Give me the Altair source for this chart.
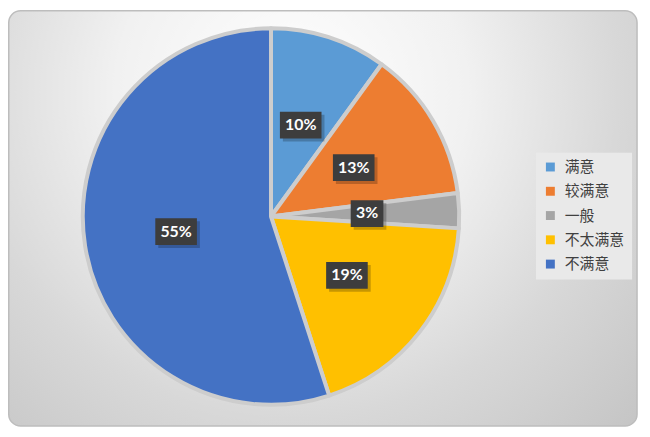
import altair as alt
import pandas as pd

categories = ["满意", "较满意", "一般", "不太满意", "不满意"]
values = [10, 13, 3, 19, 55]
labels = ["10%", "13%", "3%", "19%", "55%"]
colors = ["#5B9BD5", "#ED7D31", "#A5A5A5", "#FFC000", "#4472C4"]

CX, CY, R, LR = 265.5, 208.5, 190, 97

df = pd.DataFrame({"category": categories, "value": values, "label": labels,
                   "idx": list(range(len(categories)))})

base = (
    alt.Chart(df)
    .transform_joinaggregate(total="sum(value)")
    .transform_window(cum="sum(value)", sort=[alt.SortField("idx")], frame=[None, 0])
    .transform_calculate(t1="2*PI*datum.cum/datum.total")
    .transform_calculate(t0="2*PI*(datum.cum-datum.value)/datum.total")
    .transform_calculate(mid="(datum.t0+datum.t1)/2")
    .transform_calculate(lx=f"{CX}+{LR}*sin(datum.mid)")
    .transform_calculate(ly=f"{CY}-{LR}*cos(datum.mid)")
    .transform_calculate(hw="(15+9*length(datum.label))/2")
    .transform_calculate(bx0="datum.lx-datum.hw")
    .transform_calculate(bx1="datum.lx+datum.hw")
    .transform_calculate(by0="datum.ly-13.5")
    .transform_calculate(by1="datum.ly+13.5")
    .transform_calculate(sx0="datum.bx0+3")
    .transform_calculate(sx1="datum.bx1+3")
    .transform_calculate(sy0="datum.by0+3")
    .transform_calculate(sy1="datum.by1+3")
)

frame = alt.Chart(pd.DataFrame({"f": [0]})).mark_rect(
    cornerRadius=12, stroke="#bdbdbd", strokeWidth=1.5,
    fill=alt.Gradient(
        gradient="radial",
        stops=[alt.GradientStop(offset=0, color="#ffffff"),
               alt.GradientStop(offset=0.35, color="#f1f1f1"),
               alt.GradientStop(offset=0.65, color="#d8d8d8"),
               alt.GradientStop(offset=1, color="#c2c2c2")],
        x1=0.45, y1=0.3, r1=0, x2=0.45, y2=0.3, r2=0.8,
    ),
).encode(x=alt.value(0.75), x2=alt.value(635), y=alt.value(0.75), y2=alt.value(420))

arcs = base.mark_arc(radius=R, stroke="#cdcdcd", strokeWidth=4, strokeJoin="round").encode(
    theta=alt.Theta("t0:Q", scale=None),
    theta2="t1:Q",
    x=alt.value(CX),
    y=alt.value(CY),
    color=alt.Color("category:N", sort=categories,
                    scale=alt.Scale(domain=categories, range=colors),
                    legend=alt.Legend(title=None)),
)

shadow = base.mark_rect(color="black", opacity=0.22).encode(
    x=alt.X("sx0:Q", scale=None, axis=None), x2="sx1:Q",
    y=alt.Y("sy0:Q", scale=None, axis=None), y2="sy1:Q",
)

box = base.mark_rect(color="#3d3d3d").encode(
    x=alt.X("bx0:Q", scale=None, axis=None), x2="bx1:Q",
    y=alt.Y("by0:Q", scale=None, axis=None), y2="by1:Q",
)

text = base.mark_text(font="Lato", fontWeight="bold", fontSize=16, color="white",
                      align="center", baseline="middle").encode(
    x=alt.X("lx:Q", scale=None, axis=None),
    y=alt.Y("ly:Q", scale=None, axis=None),
    text="label:N",
)

chart = (
    alt.layer(frame, arcs, shadow, box, text)
    .properties(width=640, height=425, padding=0, autosize=alt.AutoSizeParams(type="none"),
                background="white")
    .configure_view(stroke=None)
    .configure_legend(
        orient="none", legendX=533, legendY=144, padding=7,
        fillColor="#e9e9e9", rowPadding=8.5,
        labelFont="Noto Sans CJK SC", labelFontSize=15, labelColor="#404040",
        symbolType="square", symbolSize=81, symbolStrokeWidth=0, labelOffset=7,
    )
)

chart.save("out.html", embed_options={"renderer": "svg", "actions": False})
